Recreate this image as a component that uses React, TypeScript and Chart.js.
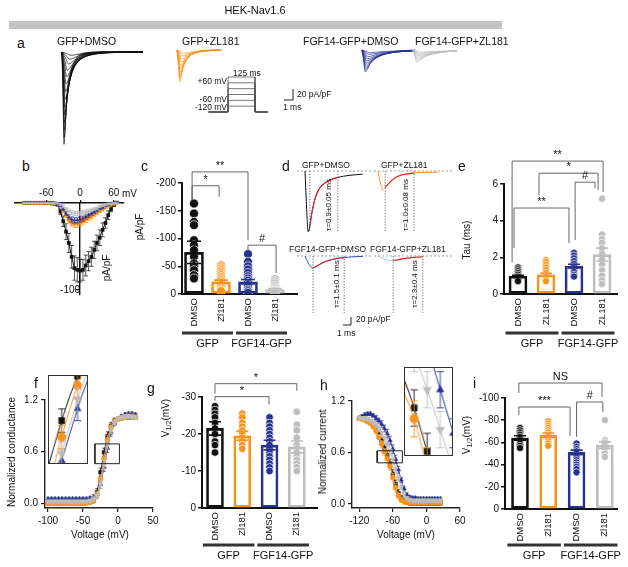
import React, { useEffect, useRef } from "react";
import { Chart, registerables } from "chart.js";

Chart.register(...registerables);

const FONT = "'Liberation Sans', Arial, Helvetica, sans-serif";
Chart.defaults.font.family = FONT;
Chart.defaults.font.size = 10;
Chart.defaults.color = "#111111";

const C_BLACK = "#111111";
const C_ORANGE = "#f7941d";
const C_BLUE = "#26338f";
const C_GRAY = "#bdbdbd";
const C_RED = "#e5262c";
const C_PALE = "#a7c8cd";
const COLORS = [C_BLACK, C_ORANGE, C_BLUE, C_GRAY];

// ---------------- DATA ----------------
// a: current families (pA/pF, ms)
const A_RISE_AT = [0, 0.5, 1]; // multiples of time-to-peak
const A_RISE_FRAC = [0, 0.45, 1];
const A_DECAY_AT = [0.5, 1, 1.5, 2, 3, 4, 6, 9]; // multiples of decay tau after peak
const A_DECAY_FRAC = [0.6, 0.37, 0.22, 0.135, 0.05, 0.018, 0.003, 0];
const A_BLACK_PEAK = [-168, -155, -142, -128, -114, -100, -86, -72, -58, -45, -33, -22, -13, -6];
const A_BLACK_TP = [0.22, 0.24, 0.26, 0.28, 0.3, 0.33, 0.36, 0.4, 0.45, 0.52, 0.6, 0.72, 0.85, 1.0];
const A_BLACK_TAU = [0.5, 0.55, 0.6, 0.66, 0.72, 0.8, 0.88, 0.98, 1.1, 1.25, 1.4, 1.6, 1.8, 2.0];
const A_ORANGE_PEAK = [-58, -52, -46, -40, -34, -28, -22, -16, -11, -6];
const A_ORANGE_TP = [0.3, 0.32, 0.34, 0.37, 0.4, 0.45, 0.5, 0.58, 0.68, 0.8];
const A_ORANGE_TAU = [0.65, 0.7, 0.75, 0.8, 0.88, 0.95, 1.05, 1.15, 1.3, 1.45];
const A_BLUE_PEAK = [-40, -36, -32, -28, -24, -20, -16, -12, -8, -5];
const A_BLUE_TP = [0.35, 0.37, 0.4, 0.43, 0.47, 0.52, 0.58, 0.65, 0.75, 0.85];
const A_BLUE_TAU = [1.2, 1.3, 1.45, 1.6, 1.8, 2.0, 2.2, 2.4, 2.6, 2.8];
const A_GRAY_PEAK = [-22, -19, -16, -13, -10, -8, -6, -4];
const A_GRAY_TP = [0.4, 0.43, 0.46, 0.5, 0.55, 0.6, 0.7, 0.8];
const A_GRAY_TAU = [1.6, 1.8, 2.0, 2.2, 2.5, 2.8, 3.1, 3.4];
// voltage protocol (mV, ms)
const PROTO_HOLD = -120;
const PROTO_LEVELS = [60, 30, 0, -30, -60, -90];
const PROTO_STEP_MS = 125;

// b: I-V (mV, pA/pF)
const B_V = [-100, -95, -90, -85, -80, -75, -70, -65, -60, -55, -50, -45, -40, -35, -30, -25, -20, -15, -10, -5, 0, 5, 10, 15, 20, 25, 30, 35, 40, 45, 50, 55, 60, 65];
const B_BLACK = [0, 0, 0, 0, 0, 0, 0, 0, 0, 0, -0.5, -1, -2, -10, -21, -33, -46, -62, -75, -77, -78, -77, -72, -67, -62, -54, -46, -40, -31, -23, -14, -7, -2, 1];
const B_BLACK_ERR = [0.5, 0.5, 0.5, 0.5, 0.5, 0.5, 0.5, 0.5, 0.5, 0.5, 0.5, 0.8, 1, 3, 6, 9, 11, 13, 14, 14, 13, 12, 12, 11, 11, 10, 9, 9, 8, 6, 5, 3, 2, 1];
const B_ORANGE = [0, 0, 0, 0, 0, 0, 0, 0, 0, 0, 0, -0.5, -1, -4, -9, -15, -20, -23, -24, -24, -23, -21, -19, -17, -15, -13, -11, -9, -7, -5, -3, -2, -1, 0];
const B_ORANGE_ERR = [0.5, 0.5, 0.5, 0.5, 0.5, 0.5, 0.5, 0.5, 0.5, 0.5, 0.5, 0.5, 0.8, 1, 1.5, 2, 3, 3.5, 4, 4, 4, 3.5, 3.5, 3, 3, 2.5, 2.5, 2, 2, 1.5, 1.5, 1, 1, 0.5];
const B_BLUE = [1, 1, 1, 1, 1, 1, 1, 1, 1, 1, 1, 0.5, -1, -3, -7, -12, -16, -19, -20, -20, -19, -18, -16, -14, -12, -10, -8, -6, -5, -3, -2, -1, 0, 1];
const B_BLUE_ERR = [0.8, 0.8, 0.8, 0.8, 0.8, 0.8, 0.8, 0.8, 0.8, 0.8, 0.8, 0.8, 1, 1, 1.5, 2, 2.5, 3, 3, 3, 3, 3, 2.5, 2.5, 2, 2, 2, 1.5, 1.5, 1, 1, 1, 0.8, 0.8];
const B_GRAY = [0, 0, 0, 0, 0, 0, 0, 0, 0, 0, 0, 0, 0, -2, -4, -7, -9, -11, -12, -12, -12, -11, -10, -9, -8, -7, -6, -4, -3, -2, -1, -1, 0, 0];
const B_GRAY_ERR = [0.6, 0.6, 0.6, 0.6, 0.6, 0.6, 0.6, 0.6, 0.6, 0.6, 0.6, 0.6, 0.8, 1, 1.5, 2, 2, 2.5, 2.5, 2.5, 2.5, 2.5, 2, 2, 2, 1.5, 1.5, 1.5, 1, 1, 1, 0.8, 0.6, 0.6];

// c: peak current density (pA/pF)
const CAT_LABELS = ["DMSO", "Zl181", "DMSO", "Zl181"];
const CAT_LABELS_E = ["DMSO", "ZL181", "DMSO", "ZL181"];
const GROUPS = [
  { from: 1, to: 2, label: "GFP" },
  { from: 3, to: 4, label: "FGF14-GFP" },
];
const C_MEAN = [-75, -22, -22, -8];
const C_SEM = [20, 3, 4, 2];
const C_DOTS = [
  [-163, -145, -130, -124, -97, -88, -79, -67, -55, -50, -43, -34, -28],
  [-52, -49, -46, -43, -40, -37, -34, -31, -28, -25, -22, -19, -16, -13, -10, -7, -5],
  [-72, -58, -50, -44, -38, -32, -28, -24, -20, -16, -12, -8, -5, -2],
  [-27, -23, -19, -15, -12, -9, -7, -5, -3, -1],
];

// d: representative traces (ms, pA/pF) and fit windows (ms)
const D_BLACK_T = [0, 0.15, 0.4, 0.6, 0.9, 1.3, 1.8, 2.5, 3.2, 4.1, 5.5, 7.2];
const D_BLACK_I = [0, -70, -152, -138, -100, -66, -44, -30, -22, -16, -11, -8];
const D_BLACK_FIT = [0.6, 4.1];
const D_ORANGE_T = [0, 0.3, 0.6, 0.9, 1.3, 1.8, 2.5, 3.4, 4.5, 6, 7.5];
const D_ORANGE_I = [0, -30, -47, -42, -32, -22, -13, -8, -5, -3, -3];
const D_ORANGE_FIT = [0.9, 4.5];
const D_BLUE_T = [0, 0.4, 0.9, 1.0, 1.5, 2.1, 2.8, 3.8, 4.9, 6, 7.25];
const D_BLUE_I = [0, -17, -30, -30, -25, -18, -12, -7, -4, -2, -1];
const D_BLUE_FIT = [1.0, 4.9];
const D_PALE_T = [0, 0.6, 1.5, 1.9, 2.6, 3.4, 4.5, 5.6];
const D_PALE_I = [0, -6, -12, -11.5, -9, -6, -3.5, -2];
const D_PALE_FIT = [1.9, 5.6];

// e: inactivation tau (ms)
const E_MEAN = [0.97, 1.05, 1.52, 2.15];
const E_SEM = [0.05, 0.08, 0.1, 0.35];
const E_DOTS = [
  [1.45, 1.35, 1.25, 1.15, 1.05, 0.95, 0.85, 0.75, 0.7],
  [1.85, 1.75, 1.6, 1.45, 1.3, 1.15, 1.0, 0.9, 0.8, 0.7],
  [2.25, 2.1, 1.95, 1.8, 1.65, 1.5, 1.35, 1.2, 1.05, 0.95],
  [5.2, 3.25, 3.0, 2.8, 2.5, 2.2, 1.9, 1.6, 1.3, 1.0, 0.75, 0.55],
];

// f: conductance-voltage
const F_V = [-100, -95, -90, -85, -80, -75, -70, -65, -60, -55, -50, -45, -40, -35, -30, -25, -20, -15, -10, -5, 0, 5, 10, 15, 20, 25];
const F_BLACK = [0, 0, 0, 0, 0, 0, 0, 0, 0, 0, 0, 0.005, 0.01, 0.04, 0.13, 0.36, 0.59, 0.78, 0.9, 0.96, 0.98, 0.99, 1, 1, 1, 1];
const F_ORANGE = [0, 0, 0, 0, 0, 0, 0, 0, 0, 0, 0, 0.005, 0.01, 0.03, 0.1, 0.28, 0.52, 0.74, 0.88, 0.95, 0.98, 0.99, 1, 1.01, 1.01, 1.0];
const F_BLUE = [0.05, 0.05, 0.05, 0.05, 0.05, 0.05, 0.05, 0.05, 0.05, 0.05, 0.05, 0.05, 0.06, 0.07, 0.1, 0.22, 0.42, 0.64, 0.82, 0.93, 0.98, 1.01, 1.03, 1.04, 1.04, 1.03];
const F_GRAY = [0.02, 0.02, 0.02, 0.02, 0.02, 0.02, 0.02, 0.02, 0.02, 0.02, 0.02, 0.02, 0.03, 0.05, 0.09, 0.22, 0.45, 0.68, 0.85, 0.94, 0.98, 1.0, 1.01, 1.01, 1.0, 1.0];
const F_ERR = [0.02, 0.02, 0.02, 0.02, 0.02, 0.02, 0.02, 0.02, 0.02, 0.02, 0.02, 0.02, 0.02, 0.03, 0.04, 0.05, 0.05, 0.05, 0.04, 0.03, 0.02, 0.02, 0.02, 0.02, 0.02, 0.02];

// g: activation V1/2 (mV)
const G_MEAN = [-21.5, -19.5, -17, -16.5];
const G_SEM = [1.8, 1.2, 1.3, 1.6];
const G_DOTS = [
  [-27.5, -26.5, -25.5, -24.5, -23, -21.5, -20, -18, -17, -15],
  [-25.5, -24.5, -23, -22, -21, -20, -19, -18, -17, -16],
  [-24.5, -23, -22, -21, -20, -19, -18, -17, -16, -15, -14, -13, -12, -11, -10],
  [-26, -22.5, -21, -19, -17, -16, -15, -14, -13, -12, -11, -10],
];

// h: steady-state inactivation
const H_V = [-120, -115, -110, -105, -100, -95, -90, -85, -80, -75, -70, -65, -60, -55, -50, -45, -40, -35, -30, -25, -20, -15, -10, -5, 0, 5, 10, 15, 20, 25];
const H_BLACK = [1, 1, 0.99, 0.98, 0.96, 0.93, 0.88, 0.82, 0.74, 0.65, 0.57, 0.47, 0.35, 0.23, 0.13, 0.07, 0.04, 0.02, 0.01, 0.01, 0.01, 0.01, 0.01, 0.01, 0.01, 0.01, 0.01, 0.01, 0.01, 0.01];
const H_ORANGE = [1, 0.99, 0.98, 0.96, 0.94, 0.9, 0.85, 0.78, 0.7, 0.61, 0.53, 0.44, 0.31, 0.19, 0.1, 0.05, 0.03, 0.02, 0.02, 0.02, 0.02, 0.02, 0.02, 0.02, 0.02, 0.02, 0.02, 0.02, 0.02, 0.02];
const H_BLUE = [1, 1.02, 1.04, 1.05, 1.05, 1.03, 1, 0.97, 0.93, 0.88, 0.82, 0.74, 0.64, 0.52, 0.4, 0.28, 0.18, 0.11, 0.08, 0.07, 0.07, 0.06, 0.06, 0.06, 0.06, 0.06, 0.06, 0.06, 0.06, 0.06];
const H_GRAY = [1, 1, 1, 0.99, 0.97, 0.95, 0.92, 0.88, 0.83, 0.77, 0.7, 0.62, 0.52, 0.41, 0.3, 0.2, 0.12, 0.07, 0.05, 0.04, 0.04, 0.04, 0.04, 0.04, 0.04, 0.04, 0.04, 0.04, 0.04, 0.04];
const H_ERR = [0.02, 0.02, 0.02, 0.02, 0.02, 0.02, 0.03, 0.03, 0.04, 0.04, 0.05, 0.05, 0.05, 0.05, 0.04, 0.03, 0.03, 0.02, 0.02, 0.02, 0.02, 0.02, 0.02, 0.02, 0.02, 0.02, 0.02, 0.02, 0.02, 0.02];

// i: inactivation V1/2 (mV)
const I_MEAN = [-64, -66.5, -51, -57.5];
const I_SEM = [2, 2, 2, 3];
const I_DOTS = [
  [-73, -71, -69, -67, -65, -63, -61, -59, -57, -55],
  [-79, -77, -75, -73, -71, -69, -67, -65, -63, -61, -59, -57],
  [-59, -56, -54, -52, -50, -48, -46, -44, -42, -40, -38, -36, -33],
  [-80, -62, -60, -58, -55, -52, -50, -47],
];

// significance brackets (x in category units, y in axis units)
const C_BRACKETS = [
  { x1: 0.93, x2: 1.93, y: -195, y1: -169, y2: -175, text: "*" },
  { x1: 0.93, x2: 3.0, y: -220, y1: -169, y2: -97, text: "**" },
  { x1: 3.0, x2: 4.04, y: -88, y1: -79, y2: -38, text: "#" },
];
const E_BRACKETS = [
  { x1: 0.79, x2: 4.04, y: 7.25, y1: 1.74, y2: 5.56, text: "**" },
  { x1: 1.75, x2: 3.86, y: 6.59, y1: 5.4, y2: 5.67, text: "*" },
  { x1: 3.04, x2: 3.75, y: 6.1, y1: 2.94, y2: 5.78, text: "#" },
  { x1: 0.86, x2: 2.82, y: 4.69, y1: 2.5, y2: 2.78, text: "**" },
];
const G_BRACKETS = [
  { x1: 1, x2: 4, y: -33.6, y1: -30.9, y2: -31.7, text: "*" },
  { x1: 1, x2: 2.98, y: -30.1, y1: -29.0, y2: -28.0, text: "*" },
];
const I_BRACKETS = [
  { x1: 0.96, x2: 3.9, y: -113.5, y1: -104.5, y2: -101, text: "NS" },
  { x1: 0.96, x2: 2.77, y: -91.9, y1: -84.7, y2: -65.8, text: "***" },
  { x1: 3.0, x2: 3.93, y: -96.4, y1: -64.9, y2: -87.4, text: "#" },
];

// ---------------- HELPERS ----------------
type R = { l: number; t: number; r: number; b: number };

const errorBarPlugin = {
  id: "errbars",
  afterDatasetDraw(chart: any, args: any) {
    const ds: any = chart.data.datasets[args.index];
    if (!ds.errorBars) return;
    const meta = chart.getDatasetMeta(args.index);
    const ys = chart.scales.y;
    const ctx = chart.ctx;
    const cap = ds.errorCap ?? 2;
    ctx.save();
    ctx.strokeStyle = ds.borderColor;
    ctx.lineWidth = ds.errorWidth ?? 0.8;
    meta.data.forEach((pt: any, i: number) => {
      const e = ds.errorBars[i];
      if (!e) return;
      const v = ds.data[i].y;
      const x = pt.x;
      const y1 = ys.getPixelForValue(v - e);
      const y2 = ys.getPixelForValue(v + e);
      ctx.beginPath();
      ctx.moveTo(x, y1);
      ctx.lineTo(x, y2);
      ctx.moveTo(x - cap, y1);
      ctx.lineTo(x + cap, y1);
      ctx.moveTo(x - cap, y2);
      ctx.lineTo(x + cap, y2);
      ctx.stroke();
    });
    ctx.restore();
  },
};

function scaleBar(t: number, i: number, dt: number, di: number) {
  return {
    id: "scalebar",
    afterDraw(chart: any) {
      const xs = chart.scales.x;
      const ys = chart.scales.y;
      const ctx = chart.ctx;
      const x0 = xs.getPixelForValue(t);
      const y0 = ys.getPixelForValue(i);
      const x1 = xs.getPixelForValue(t - dt);
      const y1 = ys.getPixelForValue(i + di);
      ctx.save();
      ctx.strokeStyle = "#222";
      ctx.lineWidth = 1;
      ctx.beginPath();
      ctx.moveTo(x1, y0);
      ctx.lineTo(x0, y0);
      ctx.lineTo(x0, y1);
      ctx.stroke();
      ctx.restore();
    },
  };
}

const baseOpts = {
  animation: false,
  responsive: false,
  events: [],
  plugins: { legend: { display: false }, tooltip: { enabled: false } },
};

function hiddenChart(xMin: number, xMax: number, yMin: number, yMax: number, datasets: any[], plugins: any[] = []) {
  return {
    type: "line",
    data: { datasets },
    options: {
      ...baseOpts,
      layout: { autoPadding: false, padding: 0 },
      elements: { point: { radius: 0 } },
      scales: {
        x: { type: "linear", display: false, min: xMin, max: xMax },
        y: { type: "linear", display: false, min: yMin, max: yMax },
      },
    },
    plugins,
  };
}

function traceChart(box: R, ox: number, oy: number, pxX: number, pxY: number, datasets: any[], plugins: any[] = []) {
  return hiddenChart((box.l - ox) / pxX, (box.r - ox) / pxX, (oy - box.b) / pxY, (oy - box.t) / pxY, datasets, plugins);
}

function line(pts: any[], color: string, width = 0.8, extra: any = {}) {
  return { data: pts, borderColor: color, backgroundColor: color, borderWidth: width, pointRadius: 0, fill: false, ...extra };
}

function family(peaks: number[], tps: number[], taus: number[], color: string) {
  return peaks.map((pk, i) => {
    const pts = A_RISE_AT.map((f, j) => ({ x: f * tps[i], y: pk * A_RISE_FRAC[j] }));
    A_DECAY_AT.forEach((k, j) => pts.push({ x: tps[i] + k * taus[i], y: pk * A_DECAY_FRAC[j] }));
    pts.push({ x: 40, y: 0 });
    return line(pts, color, 0.7, { cubicInterpolationMode: "monotone" });
  });
}

function dTrace(T: number[], I: number[], fit: number[], color: string, depth: number) {
  const pts = T.map((t, i) => ({ x: t, y: I[i] }));
  const fitPts = pts.filter((p) => p.x >= fit[0] - 1e-9 && p.x <= fit[1] + 1e-9);
  const dot = { borderDash: [1.2, 1.6] };
  return [
    line(fitPts, C_RED, 1.1, { cubicInterpolationMode: "monotone" }),
    line(pts, color, 1, { cubicInterpolationMode: "monotone" }),
    line([{ x: fit[0], y: 0 }, { x: fit[0], y: depth }], "#444", 0.8, dot),
    line([{ x: fit[1], y: 0 }, { x: fit[1], y: depth }], "#444", 0.8, dot),
    line([{ x: -50, y: 0 }, { x: 50, y: 0 }], "#8a8a8a", 0.8, { borderDash: [2, 2] }),
  ];
}

function protoDatasets() {
  return PROTO_LEVELS.map((L) =>
    line(
      [
        { x: -90, y: PROTO_HOLD },
        { x: 0, y: PROTO_HOLD },
        { x: 0, y: L },
        { x: PROTO_STEP_MS, y: L },
        { x: PROTO_STEP_MS, y: PROTO_HOLD },
        { x: PROTO_STEP_MS + 60, y: PROTO_HOLD },
      ],
      "#555",
      0.8
    )
  );
}

function fixedLayout(box: R, area: R) {
  return {
    padding: { left: 0, top: area.t - box.t, right: box.r - area.r, bottom: 0 },
    yW: area.l - box.l,
    xH: box.b - area.b,
  };
}

function barPanel(o: any) {
  const ax = fixedLayout(o.box, o.area);
  const datasets: any[] = [
    {
      type: "bar",
      data: o.means.map((m: number, i: number) => ({ x: i + 1, y: m })),
      borderColor: COLORS,
      backgroundColor: "rgba(255,255,255,0)",
      borderWidth: 2,
      borderSkipped: false,
      barThickness: o.barWidth,
      order: 1,
    },
    ...o.dots.map((arr: number[], g: number) => ({
      type: "scatter",
      data: arr.map((v) => ({ x: g + 1, y: v })),
      backgroundColor: COLORS[g],
      borderColor: "#ffffff",
      borderWidth: 0.7,
      pointRadius: o.dotR,
      order: 2,
    })),
  ];
  const annot = {
    id: "annot",
    afterDatasetsDraw(chart: any) {
      const xs = chart.scales.x;
      const ys = chart.scales.y;
      const ctx = chart.ctx;
      ctx.save();
      o.means.forEach((m: number, i: number) => {
        const x = xs.getPixelForValue(i + 1);
        const y1 = ys.getPixelForValue(m - o.sems[i]);
        const y2 = ys.getPixelForValue(m + o.sems[i]);
        ctx.strokeStyle = COLORS[i];
        ctx.lineWidth = 1.6;
        ctx.beginPath();
        ctx.moveTo(x, y1);
        ctx.lineTo(x, y2);
        ctx.moveTo(x - o.capW, y1);
        ctx.lineTo(x + o.capW, y1);
        ctx.moveTo(x - o.capW, y2);
        ctx.lineTo(x + o.capW, y2);
        ctx.stroke();
      });
      ctx.font = `11px ${FONT}`;
      ctx.fillStyle = "#111";
      ctx.textAlign = "center";
      ctx.textBaseline = "bottom";
      o.brackets.forEach((b: any) => {
        const xa = xs.getPixelForValue(b.x1);
        const xb = xs.getPixelForValue(b.x2);
        const yb = ys.getPixelForValue(b.y);
        ctx.strokeStyle = "#555";
        ctx.lineWidth = 0.9;
        ctx.beginPath();
        ctx.moveTo(xa, ys.getPixelForValue(b.y1));
        ctx.lineTo(xa, yb);
        ctx.lineTo(xb, yb);
        ctx.lineTo(xb, ys.getPixelForValue(b.y2));
        ctx.stroke();
        ctx.fillText(b.text, (xa + xb) / 2, yb - 0.5);
      });
      const half = (xs.getPixelForValue(2) - xs.getPixelForValue(1)) / 2;
      const gy = chart.chartArea.bottom + o.groupOffset;
      ctx.textBaseline = "top";
      GROUPS.forEach((g) => {
        const xa = xs.getPixelForValue(g.from) - half + 1.5;
        const xb = xs.getPixelForValue(g.to) + half - 1.5;
        ctx.strokeStyle = "#333";
        ctx.lineWidth = 3;
        ctx.beginPath();
        ctx.moveTo(xa, gy);
        ctx.lineTo(xb, gy);
        ctx.stroke();
        ctx.fillText(g.label, (xa + xb) / 2, gy + 5);
      });
      ctx.restore();
    },
  };
  return {
    type: "bar",
    data: { datasets },
    options: {
      ...baseOpts,
      layout: { autoPadding: false, padding: ax.padding },
      scales: {
        x: {
          type: "linear",
          min: o.xMin,
          max: o.xMax,
          offset: false,
          grid: { display: false, drawTicks: false },
          border: { display: true, color: C_BLACK, width: 2 },
          afterBuildTicks: (s: any) => {
            s.ticks = [1, 2, 3, 4].map((v) => ({ value: v }));
          },
          afterFit: (s: any) => {
            s.height = ax.xH;
            s.paddingLeft = 0;
            s.paddingRight = 0;
          },
          ticks: {
            autoSkip: false,
            minRotation: 90,
            maxRotation: 90,
            padding: 4,
            font: { size: 9.5 },
            callback: (v: number) => o.labels[Math.round(v) - 1] ?? "",
          },
        },
        y: {
          type: "linear",
          min: o.yMin,
          max: o.yMax,
          reverse: o.reverse,
          grid: { drawOnChartArea: false, drawTicks: true, tickLength: 4, color: C_BLACK, lineWidth: 1.5 },
          border: { display: true, color: C_BLACK, width: 2 },
          afterBuildTicks: (s: any) => {
            s.ticks = o.yTicks.map((v: number) => ({ value: v }));
          },
          afterFit: (s: any) => {
            s.width = ax.yW;
            s.paddingTop = 0;
            s.paddingBottom = 0;
          },
          ticks: { padding: 2, font: { size: 10 }, callback: (v: number) => String(v) },
        },
      },
    },
    plugins: [annot],
  };
}

function seriesDatasets(V: number[], series: any[], err: number[], r: number, cap: number, ew: number, lw: number) {
  return series.map((s) => ({
    data: V.map((v, i) => ({ x: v, y: s.vals[i] })),
    borderColor: s.color,
    backgroundColor: s.color,
    borderWidth: lw,
    pointStyle: s.style,
    pointRotation: s.rot,
    pointRadius: r * s.k,
    pointBorderWidth: 0.5,
    pointBorderColor: s.color,
    cubicInterpolationMode: "monotone",
    errorBars: err,
    errorCap: cap,
    errorWidth: ew,
  }));
}

function rectDataset(z: any) {
  return line(
    [
      { x: z.x1, y: z.y1 },
      { x: z.x2, y: z.y1 },
      { x: z.x2, y: z.y2 },
      { x: z.x1, y: z.y2 },
      { x: z.x1, y: z.y1 },
    ],
    "#222",
    1
  );
}

function curvePanel(o: any) {
  const ax = fixedLayout(o.box, o.area);
  const datasets: any[] = [rectDataset(o.zoom), ...seriesDatasets(o.V, o.series, o.err, 2.6, 1.8, 0.7, 0.9)];
  return {
    type: "line",
    data: { datasets },
    options: {
      ...baseOpts,
      layout: { autoPadding: false, padding: ax.padding },
      scales: {
        x: {
          type: "linear",
          min: o.xMin,
          max: o.xMax,
          grid: { drawOnChartArea: false, drawTicks: true, tickLength: 4, color: "#222", lineWidth: 1.2 },
          border: { color: "#222", width: 1.4 },
          afterBuildTicks: (s: any) => {
            s.ticks = o.xTicks.map((v: number) => ({ value: v }));
          },
          afterFit: (s: any) => {
            s.height = ax.xH;
            s.paddingLeft = 0;
            s.paddingRight = 0;
          },
          ticks: { padding: 3, autoSkip: false, minRotation: 0, maxRotation: 0, font: { size: 10 }, callback: (v: number) => String(v) },
        },
        y: {
          type: "linear",
          min: o.yMin,
          max: o.yMax,
          grid: { drawOnChartArea: false, drawTicks: true, tickLength: 4, color: "#222", lineWidth: 1.2 },
          border: { color: "#222", width: 1.4 },
          afterBuildTicks: (s: any) => {
            s.ticks = o.yTicks.map((v: number) => ({ value: v }));
          },
          afterFit: (s: any) => {
            s.width = ax.yW;
            s.paddingTop = 0;
            s.paddingBottom = 0;
          },
          ticks: { padding: 3, font: { size: 10 }, callback: (v: number) => v.toFixed(1) },
        },
      },
    },
    plugins: [errorBarPlugin],
  };
}

function ivPanel(box: R, area: R) {
  const series = [
    { vals: B_GRAY, err: B_GRAY_ERR, color: C_GRAY, style: "triangle", rot: 180, r: 2 },
    { vals: B_BLUE, err: B_BLUE_ERR, color: C_BLUE, style: "triangle", rot: 0, r: 2 },
    { vals: B_ORANGE, err: B_ORANGE_ERR, color: C_ORANGE, style: "circle", rot: 0, r: 2 },
    { vals: B_BLACK, err: B_BLACK_ERR, color: C_BLACK, style: "rect", rot: 0, r: 2.6 },
  ];
  const datasets = series.map((s) => ({
    data: B_V.map((v, i) => ({ x: v, y: s.vals[i] })),
    borderColor: s.color,
    backgroundColor: s.color,
    borderWidth: 1,
    pointStyle: s.style,
    pointRotation: s.rot,
    pointRadius: s.r,
    pointBorderWidth: 0,
    errorBars: s.err,
    errorCap: 2.2,
    errorWidth: 0.7,
  }));
  const xMin = -115.7;
  const xMax = 78;
  return {
    type: "line",
    data: { datasets },
    options: {
      ...baseOpts,
      layout: { autoPadding: false, padding: { left: area.l - box.l, top: 0, right: box.r - area.r, bottom: box.b - area.b } },
      scales: {
        x: {
          type: "linear",
          position: "top",
          min: xMin,
          max: xMax,
          grid: { drawOnChartArea: false, drawTicks: true, tickLength: 3, color: "#111", lineWidth: 1.2 },
          border: { color: "#111", width: 1.4 },
          afterBuildTicks: (s: any) => {
            s.ticks = [-60, 0, 60].map((v) => ({ value: v }));
          },
          afterFit: (s: any) => {
            s.height = area.t - box.t;
            s.paddingLeft = 0;
            s.paddingRight = 0;
          },
          ticks: { padding: 1, autoSkip: false, minRotation: 0, maxRotation: 0, font: { size: 10 }, callback: (v: number) => String(v) },
        },
        y: {
          type: "linear",
          position: { x: 0 },
          min: -106,
          max: 0,
          grid: { drawOnChartArea: false, drawTicks: true, tickLength: 3, color: "#111", lineWidth: 1.2 },
          border: { color: "#111", width: 1.4 },
          afterBuildTicks: (s: any) => {
            s.ticks = [{ value: -100 }];
          },
          afterFit: (s: any) => {
            s.width = 0;
            s.paddingTop = 0;
            s.paddingBottom = 0;
          },
          ticks: { padding: 2, font: { size: 10 }, callback: (v: number) => String(v) },
        },
      },
    },
    plugins: [errorBarPlugin],
  };
}

const F_SERIES = [
  { vals: F_GRAY, color: C_GRAY, style: "triangle", rot: 180, k: 1.15 },
  { vals: F_ORANGE, color: C_ORANGE, style: "circle", rot: 0, k: 1 },
  { vals: F_BLACK, color: C_BLACK, style: "rect", rot: 0, k: 1 },
  { vals: F_BLUE, color: C_BLUE, style: "triangle", rot: 0, k: 1 },
];
const H_SERIES = [
  { vals: H_GRAY, color: C_GRAY, style: "triangle", rot: 180, k: 1.15 },
  { vals: H_ORANGE, color: C_ORANGE, style: "circle", rot: 0, k: 1 },
  { vals: H_BLACK, color: C_BLACK, style: "rect", rot: 0, k: 1 },
  { vals: H_BLUE, color: C_BLUE, style: "triangle", rot: 0, k: 1 },
];

// ---------------- LAYOUT ----------------
const PX_MS_A = 9;
const PX_U_A = 0.55;
const PX_MS_D = 8;
const PX_U_D = 0.4;

type Spec = { key: string; box: R; make: () => any; style?: any };

const SPECS: Spec[] = [
  // a
  { key: "a-black", box: { l: 50, t: 36, r: 143, b: 148 }, make() { return traceChart(this.box, 62, 52, PX_MS_A, PX_U_A, family(A_BLACK_PEAK, A_BLACK_TP, A_BLACK_TAU, C_BLACK)); } },
  { key: "a-orange", box: { l: 170, t: 36, r: 221, b: 100 }, make() { return traceChart(this.box, 177, 50, PX_MS_A, PX_U_A, family(A_ORANGE_PEAK, A_ORANGE_TP, A_ORANGE_TAU, C_ORANGE)); } },
  { key: "a-blue", box: { l: 355, t: 36, r: 415, b: 80 }, make() { return traceChart(this.box, 362, 50, PX_MS_A, PX_U_A, family(A_BLUE_PEAK, A_BLUE_TP, A_BLUE_TAU, C_BLUE)); } },
  { key: "a-gray", box: { l: 406, t: 36, r: 457, b: 70 }, make() { return traceChart(this.box, 413, 50, PX_MS_A, PX_U_A, family(A_GRAY_PEAK, A_GRAY_TP, A_GRAY_TAU, C_GRAY)); } },
  { key: "a-scale", box: { l: 278, t: 84, r: 298, b: 104 }, make() { return traceChart(this.box, 177, 50, PX_MS_A, PX_U_A, [], [scaleBar(12.89, -90.9, 1, 20)]); } },
  { key: "a-proto", box: { l: 208, t: 70, r: 272, b: 116 }, make() { return traceChart(this.box, 228, 88.67, 27 / PROTO_STEP_MS, 0.1944, protoDatasets()); } },
  // b
  { key: "b", box: { l: 0, t: 175, r: 135, b: 300 }, make() { return ivPanel(this.box, { l: 15, t: 203, r: 124, b: 295 }); } },
  // c
  {
    key: "c", box: { l: 140, t: 155, r: 300, b: 356 },
    make() {
      return barPanel({ box: this.box, area: { l: 182, t: 183, r: 297, b: 294 }, xMin: 0.556, xMax: 4.815, yMin: -200, yMax: 0, reverse: true, yTicks: [-200, -150, -100, -50, 0], labels: CAT_LABELS, means: C_MEAN, sems: C_SEM, dots: C_DOTS, barWidth: 19, dotR: 4.5, capW: 7, brackets: C_BRACKETS, groupOffset: 39 });
    },
  },
  // d
  { key: "d1", box: { l: 296, t: 160, r: 373, b: 240 }, make() { return traceChart(this.box, 305, 171, PX_MS_D, PX_U_D, dTrace(D_BLACK_T, D_BLACK_I, D_BLACK_FIT, C_BLACK, -152)); } },
  { key: "d2", box: { l: 373, t: 160, r: 452, b: 240 }, make() { return traceChart(this.box, 378, 171, PX_MS_D, PX_U_D, dTrace(D_ORANGE_T, D_ORANGE_I, D_ORANGE_FIT, C_ORANGE, -152)); } },
  { key: "d3", box: { l: 296, t: 245, r: 373, b: 335 }, make() { return traceChart(this.box, 305, 256, PX_MS_D, PX_U_D, dTrace(D_BLUE_T, D_BLUE_I, D_BLUE_FIT, "#3b4db0", -142), [scaleBar(5.75, -172.5, 1, 20)]); } },
  { key: "d4", box: { l: 373, t: 245, r: 452, b: 320 }, make() { return traceChart(this.box, 378, 256, PX_MS_D, PX_U_D, dTrace(D_PALE_T, D_PALE_I, D_PALE_FIT, C_PALE, -142)); } },
  // e
  {
    key: "e", box: { l: 478, t: 150, r: 628, b: 356 },
    make() {
      return barPanel({ box: this.box, area: { l: 504, t: 184, r: 617, b: 294 }, xMin: 0.5, xMax: 4.536, yMin: 0, yMax: 6, reverse: false, yTicks: [0, 2, 4, 6], labels: CAT_LABELS_E, means: E_MEAN, sems: E_SEM, dots: E_DOTS, barWidth: 18, dotR: 3.6, capW: 6, brackets: E_BRACKETS, groupOffset: 39 });
    },
  },
  // f
  {
    key: "f", box: { l: 0, t: 370, r: 160, b: 545 },
    make() {
      return curvePanel({ box: this.box, area: { l: 45, t: 400, r: 153, b: 508 }, xMin: -104.3, xMax: 50, yMin: -0.055, yMax: 1.2, xTicks: [-100, -50, 0, 50], yTicks: [0, 0.6, 1.2], V: F_V, series: F_SERIES, err: F_ERR, zoom: { x1: -33, x2: 2, y1: 0.46, y2: 0.69 } });
    },
  },
  {
    key: "f-inset", box: { l: 49, t: 376, r: 89, b: 465 }, style: { border: "1px solid #333", background: "#fff", marginLeft: -1, marginTop: -1 },
    make() {
      return hiddenChart(-24, -12, 0.41, 0.78, seriesDatasets(F_V, F_SERIES, F_ERR, 4.5, 4, 0.9, 1), [errorBarPlugin]);
    },
  },
  // g
  {
    key: "g", box: { l: 168, t: 370, r: 320, b: 567 },
    make() {
      return barPanel({ box: this.box, area: { l: 202, t: 397, r: 317, b: 508 }, xMin: 0.524, xMax: 4.74, yMin: -30, yMax: 0, reverse: true, yTicks: [-30, -20, -10, 0], labels: CAT_LABELS, means: G_MEAN, sems: G_SEM, dots: G_DOTS, barWidth: 17, dotR: 3.8, capW: 6, brackets: G_BRACKETS, groupOffset: 37 });
    },
  },
  // h
  {
    key: "h", box: { l: 318, t: 370, r: 470, b: 545 },
    make() {
      return curvePanel({ box: this.box, area: { l: 352, t: 401, r: 460, b: 508 }, xMin: -133, xMax: 60, yMin: -0.046, yMax: 1.2, xTicks: [-120, -60, 0, 60], yTicks: [0, 0.6, 1.2], V: H_V, series: H_SERIES, err: H_ERR, zoom: { x1: -88, x2: -43, y1: 0.48, y2: 0.62 } });
    },
  },
  {
    key: "h-inset", box: { l: 405, t: 368, r: 454, b: 457 }, style: { border: "1px solid #333", background: "#fff", marginLeft: -1, marginTop: -1 },
    make() {
      return hiddenChart(-68.5, -50.5, 0.34, 0.58, seriesDatasets(H_V, H_SERIES, H_ERR, 4.5, 4, 0.9, 1), [errorBarPlugin]);
    },
  },
  // i
  {
    key: "i", box: { l: 478, t: 362, r: 628, b: 567 },
    make() {
      return barPanel({ box: this.box, area: { l: 505, t: 398, r: 617, b: 509 }, xMin: 0.47, xMax: 4.43, yMin: -100, yMax: 0, reverse: true, yTicks: [-100, -80, -60, -40, -20, 0], labels: CAT_LABELS, means: I_MEAN, sems: I_SEM, dots: I_DOTS, barWidth: 17, dotR: 3.6, capW: 6, brackets: I_BRACKETS, groupOffset: 36 });
    },
  },
];

const V12 = (
  <span>
    V<sub style={{ fontSize: "0.72em", verticalAlign: "-0.3em", lineHeight: 0 }}>1/2</sub>(mV)
  </span>
);

const TEXTS: any[] = [
  { x: 255, y: 10, s: 11, t: "HEK-Nav1.6" },
  { x: 17, y: 43, s: 14, a: "left", t: "a" },
  { x: 57, y: 41, s: 10.5, a: "left", t: "GFP+DMSO" },
  { x: 182, y: 41, s: 10.5, a: "left", t: "GFP+ZL181" },
  { x: 303, y: 41, s: 10.5, a: "left", t: "FGF14-GFP+DMSO" },
  { x: 415, y: 41, s: 10.5, a: "left", t: "FGF14-GFP+ZL181" },
  { x: 227, y: 81, s: 8.5, a: "right", t: "+60 mV" },
  { x: 233, y: 73, s: 8.5, a: "left", t: "125 ms" },
  { x: 227, y: 99, s: 8.5, a: "right", t: "-60 mV" },
  { x: 227, y: 107, s: 8.5, a: "right", t: "-120 mV" },
  { x: 297, y: 94, s: 8.5, a: "left", t: "20 pA/pF" },
  { x: 283, y: 107, s: 8.5, a: "left", t: "1 ms" },
  { x: 22, y: 166, s: 14, a: "left", t: "b" },
  { x: 122, y: 194, s: 10, a: "left", t: "mV" },
  { x: 107, y: 268, s: 10, rot: true, t: "pA/pF" },
  { x: 141, y: 166, s: 14, a: "left", t: "c" },
  { x: 140, y: 227, s: 10, rot: true, t: "pA/pF" },
  { x: 282, y: 166, s: 14, a: "left", t: "d" },
  { x: 302, y: 165, s: 8.5, a: "left", t: "GFP+DMSO" },
  { x: 381, y: 165, s: 8.5, a: "left", t: "GFP+ZL181" },
  { x: 289, y: 249, s: 8.5, a: "left", t: "FGF14-GFP+DMSO" },
  { x: 370, y: 249, s: 8.5, a: "left", t: "FGF14-GFP+ZL181" },
  { x: 329, y: 205, s: 8, rot: true, t: "τ=0.9±0.05 ms" },
  { x: 406, y: 205, s: 8, rot: true, t: "τ=1.0±0.08 ms" },
  { x: 337, y: 284, s: 8, rot: true, t: "τ=1.5±0.1 ms" },
  { x: 415, y: 284, s: 8, rot: true, t: "τ=2.3±0.4 ms" },
  { x: 356, y: 319, s: 8.5, a: "left", t: "20 pA/pF" },
  { x: 337, y: 333, s: 8.5, a: "left", t: "1 ms" },
  { x: 458, y: 166, s: 14, a: "left", t: "e" },
  { x: 467, y: 240, s: 10, rot: true, t: "Tau (ms)" },
  { x: 34, y: 383, s: 14, a: "left", t: "f" },
  { x: 12, y: 452, s: 10, rot: true, t: "Normalized conductance" },
  { x: 100, y: 535, s: 10, t: "Voltage (mV)" },
  { x: 147, y: 388, s: 14, a: "left", t: "g" },
  { x: 166, y: 418, s: 10, rot: true, t: V12 },
  { x: 320, y: 385, s: 14, a: "left", t: "h" },
  { x: 323, y: 452, s: 10, rot: true, t: "Normalized current" },
  { x: 406, y: 535, s: 10, t: "Voltage (mV)" },
  { x: 473, y: 383, s: 14, a: "left", t: "i" },
  { x: 467, y: 435, s: 10, rot: true, t: V12 },
];

function ChartCanvas({ spec }: { spec: Spec }) {
  const ref = useRef<HTMLCanvasElement>(null);
  useEffect(() => {
    const chart = new Chart(ref.current as HTMLCanvasElement, spec.make() as any);
    return () => chart.destroy();
  }, []);
  const { l, t, r, b } = spec.box;
  return (
    <canvas
      ref={ref}
      width={r - l}
      height={b - t}
      style={{ position: "absolute", left: l, top: t, width: r - l, height: b - t, ...(spec.style || {}) }}
    />
  );
}

function Label({ d }: { d: any }) {
  const tx = d.a === "left" ? "0" : d.a === "right" ? "-100%" : "-50%";
  return (
    <div
      style={{
        position: "absolute",
        left: d.x,
        top: d.y,
        transform: d.rot ? "translate(-50%,-50%) rotate(-90deg)" : `translate(${tx},-50%)`,
        fontSize: d.s,
        lineHeight: 1,
        whiteSpace: "nowrap",
        color: "#111",
      }}
    >
      {d.t}
    </div>
  );
}

export default function App() {
  return (
    <div
      style={{
        position: "absolute",
        left: 0,
        top: 0,
        width: 628,
        height: 567,
        background: "#fff",
        overflow: "hidden",
        fontFamily: FONT,
      }}
    >
      <div style={{ position: "absolute", left: 9, top: 21, width: 493, height: 8, background: "#c4c4c4" }} />
      {SPECS.map((s) => (
        <ChartCanvas key={s.key} spec={s} />
      ))}
      {TEXTS.map((d, i) => (
        <Label key={i} d={d} />
      ))}
    </div>
  );
}
